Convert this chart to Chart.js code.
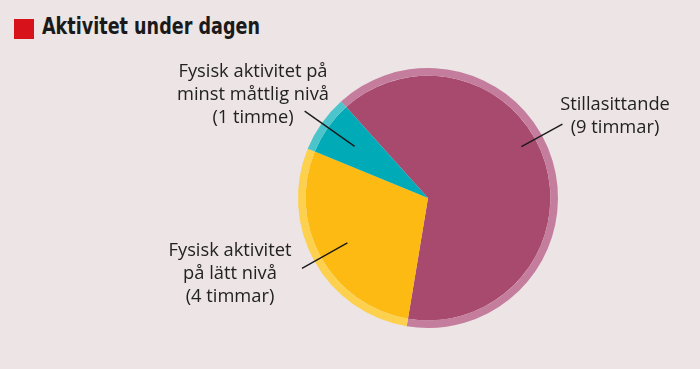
<!DOCTYPE html>
<html>
<head>
<meta charset="utf-8">
<script src="https://cdn.jsdelivr.net/npm/chart.js@4.4.0/dist/chart.umd.min.js"></script>
<style>
  html, body { margin: 0; padding: 0; background: #ece4e5; }
  #wrap { position: relative; width: 700px; height: 369px; }
  #title { position: absolute; left: 14px; top: 19px; height: 20px; white-space: nowrap; }
  #title .box { position: absolute; left: 0; top: 0; width: 20px; height: 20px; background: #d7121b; }
  #title .txt { position: absolute; left: 28px; top: -6px; font-family: "Liberation Sans Narrow", "DejaVu Sans Condensed", sans-serif;
           font-weight: bold; font-size: 23px; color: #1a1a1a; transform: scaleX(0.85); transform-origin: left top; }
  canvas { position: absolute; left: 0; top: 0; }
</style>
</head>
<body>
<div id="wrap">
  <div id="title"><span class="box"></span><span class="txt">Aktivitet under dagen</span></div>
  <canvas id="myChart" width="700" height="369"></canvas>
</div>
<script>
// timmar per dag
var categories = ["Stillasittande", "Fysisk aktivitet på lätt nivå", "Fysisk aktivitet på minst måttlig nivå"];
var hours = [9, 4, 1];
var labelLines = [
  ["Stillasittande", "(9 timmar)"],
  ["Fysisk aktivitet", "på lätt nivå", "(4 timmar)"],
  ["Fysisk aktivitet på", "minst måttlig nivå", "(1 timme)"]
];
var mainColors = ["#a84a6e", "#fdba12", "#00aab6"];
var rimColors = ["#c47d9c", "#fdd04e", "#4cc4cc"];

// where each label sits and how its leader line runs (radial, in radius units)
var labelPlace = [
  { x: 615, y: 105, shift: -12.5, r0: 0.82, r1: 1.18 },
  { x: 230, y: 251, shift: 0, r0: 0.71, r1: 1.11 },
  { x: 253, y: 72, shift: 0, r0: 0.69, r1: 1.16 }
];

var labelPlugin = {
  id: "labels",
  afterDraw: function (chart) {
    var ctx = chart.ctx;
    var meta = chart.getDatasetMeta(1);
    var outer = chart.getDatasetMeta(0).data[0].outerRadius;
    ctx.save();
    meta.data.forEach(function (arc, i) {
      var p = labelPlace[i];
      var mid = (arc.startAngle + arc.endAngle) / 2 + p.shift * Math.PI / 180;
      ctx.strokeStyle = "#1a1a1a";
      ctx.lineWidth = 1.4;
      ctx.beginPath();
      ctx.moveTo(arc.x + Math.cos(mid) * outer * p.r0, arc.y + Math.sin(mid) * outer * p.r0);
      ctx.lineTo(arc.x + Math.cos(mid) * outer * p.r1, arc.y + Math.sin(mid) * outer * p.r1);
      ctx.stroke();
      ctx.fillStyle = "#222";
      ctx.font = "18.3px 'Open Sans', sans-serif";
      ctx.textAlign = "center";
      ctx.textBaseline = "middle";
      labelLines[i].forEach(function (t, j) {
        ctx.fillText(t, p.x, p.y + j * 23);
      });
    });
    ctx.restore();
  }
};

new Chart(document.getElementById("myChart"), {
  type: "pie",
  data: {
    labels: categories,
    datasets: [
      { data: hours, backgroundColor: rimColors, borderWidth: 0, weight: 1 },
      { data: hours, backgroundColor: mainColors, borderWidth: 0, weight: 16 }
    ]
  },
  options: {
    responsive: false,
    animation: false,
    rotation: -42,
    hoverOffset: 0,
    layout: { padding: { top: 68, bottom: 41, left: 298, right: 142 } },
    plugins: { legend: { display: false }, tooltip: { enabled: false } }
  },
  plugins: [labelPlugin]
});
</script>
</body>
</html>
